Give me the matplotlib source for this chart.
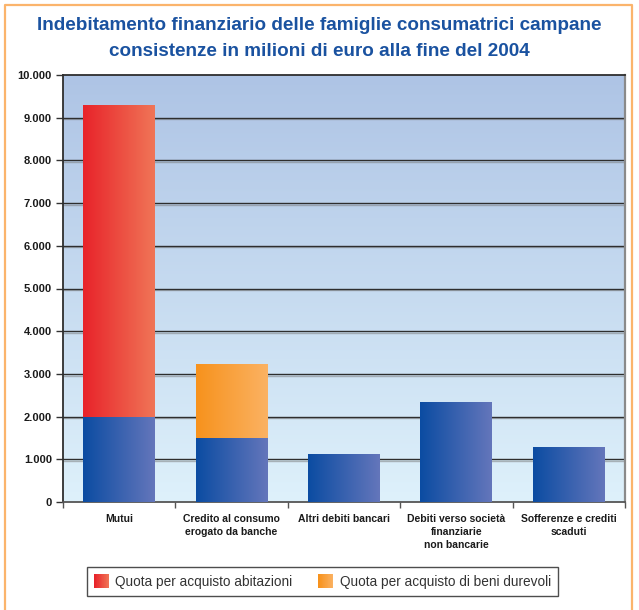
import matplotlib
matplotlib.use('Agg')
import matplotlib.pyplot as plt
import numpy as np
from matplotlib.patches import Rectangle, Patch
from matplotlib.legend_handler import HandlerBase
from matplotlib.colors import LinearSegmentedColormap, to_rgb
from matplotlib.lines import Line2D
import matplotlib.patheffects as pe

# ---------------- data ----------------
categories = ["Mutui", "Credito al consumo\nerogato da banche", "Altri debiti bancari",
              "Debiti verso società\nfinanziarie\nnon bancarie", "Sofferenze e crediti\nscaduti"]
base_values = [2000, 1500, 1120, 2340, 1290]
quota_abitazioni = [7300, 0, 0, 0, 0]
quota_beni_durevoli = [0, 1730, 0, 0, 0]
ytick_values = [0, 1000, 2000, 3000, 4000, 5000, 6000, 7000, 8000, 9000, 10000]
ytick_labels = ["0", "1.000", "2.000", "3.000", "4.000", "5.000", "6.000", "7.000", "8.000", "9.000", "10.000"]
legend_labels = ["Quota per acquisto abitazioni", "Quota per acquisto di beni durevoli"]
title = "Indebitamento finanziario delle famiglie consumatrici campane\nconsistenze in milioni di euro alla fine del 2004"

# ---------------- style ----------------
plt.rcParams['font.family'] = ['Liberation Sans', 'DejaVu Sans']
BLUE = ('#0b4ca2', '#6476bb')
RED = ('#e8232a', '#f07557')
ORANGE = ('#f7921c', '#fbb263')
BG = ('#aec4e5', '#def1fb')
TITLE_C = '#1a52a0'

def cmap_of(c):
    return LinearSegmentedColormap.from_list('g', [c[0], c[1]])

W, H = 639, 610
fig = plt.figure(figsize=(W / 100, H / 100), dpi=100)
ax = fig.add_axes([63 / W, 1 - 502 / H, (625 - 63) / W, (502 - 75) / H])

x = np.arange(len(categories))
bw = 0.64

def grad_fill(bar, colors):
    x0, y0 = bar.get_x(), bar.get_y()
    w, h = bar.get_width(), bar.get_height()
    if h <= 0:
        bar.set_visible(False)
        return
    im = ax.imshow(np.linspace(0, 1, 256)[None, :], cmap=cmap_of(colors), aspect='auto',
                   extent=(x0, x0 + w, y0, y0 + h), zorder=3, interpolation='bilinear')
    im.set_clip_path(bar)
    bar.set_facecolor('none')

b1 = ax.bar(x, base_values, width=bw, zorder=3, edgecolor='none')
b2 = ax.bar(x, quota_abitazioni, width=bw, bottom=base_values, zorder=3, edgecolor='none')
b3 = ax.bar(x, quota_beni_durevoli, width=bw, bottom=base_values, zorder=3, edgecolor='none')
for b in b1:
    grad_fill(b, BLUE)
for b in b2:
    grad_fill(b, RED)
for b in b3:
    grad_fill(b, ORANGE)

# background gradient
ax.imshow(np.linspace(0, 1, 256)[:, None], cmap=cmap_of(BG), aspect='auto',
          extent=(0, 1, 0, 1), transform=ax.transAxes, zorder=0, interpolation='bilinear')

ax.set_xlim(-0.5, len(categories) - 0.5)
ax.set_ylim(0, 10000)

# grid lines
for v in ytick_values[1:-1]:
    ax.axhline(v, color='#2e2e2e', lw=1.0, zorder=1,
               path_effects=[pe.SimpleLineShadow(offset=(0, -1.2), shadow_color='#777777', alpha=0.5), pe.Normal()])

ax.set_yticks(ytick_values)
ax.set_yticklabels(ytick_labels, fontsize=8, fontweight='bold', color='#1a1a1a')
ax.tick_params(axis='y', length=5, width=1, color='#333333', pad=3)

ax.set_xticks(x)
ax.set_xticklabels(categories, fontsize=7.5, fontweight='bold', color='#1a1a1a', linespacing=1.35)
ax.tick_params(axis='x', which='major', length=0, pad=9)
ax.set_xticks(np.arange(-0.5, len(categories), 1.0), minor=True)
ax.tick_params(axis='x', which='minor', length=4, width=1, color='#555555')

for s in ['top', 'left', 'bottom']:
    ax.spines[s].set_color('#2e2e2e')
    ax.spines[s].set_linewidth(1.3)
ax.spines['right'].set_color('#8a8a8a')
ax.spines['right'].set_linewidth(1.6)
ax.spines['bottom'].set_color('#555555')

fig.text(0.5, 1 - 38.5 / H, title, ha='center', va='center', fontsize=13.6, fontweight='bold',
         color=TITLE_C, linespacing=1.62)

# legend with gradient patches
class GradHandler(HandlerBase):
    def __init__(self, colors):
        super().__init__()
        self.colors = colors
    def create_artists(self, legend, orig_handle, xdescent, ydescent, width, height, fontsize, trans):
        n = 24
        c0, c1 = np.array(to_rgb(self.colors[0])), np.array(to_rgb(self.colors[1]))
        arts = []
        for i in range(n):
            c = c0 + (c1 - c0) * i / (n - 1)
            arts.append(Rectangle((-xdescent + width * i / n, -ydescent), width / n * 1.1, height,
                                  facecolor=c, edgecolor='none', transform=trans))
        return arts

h_red = Patch(facecolor=RED[0])
h_or = Patch(facecolor=ORANGE[0])
leg = fig.legend([h_red, h_or], legend_labels, loc='center',
                 bbox_to_anchor=((88 + 557) / 2 / W, 1 - 581.5 / H),
                 ncol=2, fontsize=9.8, frameon=True, fancybox=False, edgecolor='#222222',
                 handlelength=1.1, handleheight=1.15, handletextpad=0.45, columnspacing=1.9,
                 borderpad=0.55, borderaxespad=0, handler_map={h_red: GradHandler(RED), h_or: GradHandler(ORANGE)})
leg.get_frame().set_linewidth(1.0)
for t in leg.get_texts():
    t.set_color('#333333')

# orange outer border (left, top, right)
bc = '#fbb46c'
fig.add_artist(Line2D([5 / W, 5 / W, 632 / W, 632 / W], [0, 1 - 5 / H, 1 - 5 / H, 0],
                      transform=fig.transFigure, color=bc, lw=1.6))

fig.savefig('out.png', dpi=100)
